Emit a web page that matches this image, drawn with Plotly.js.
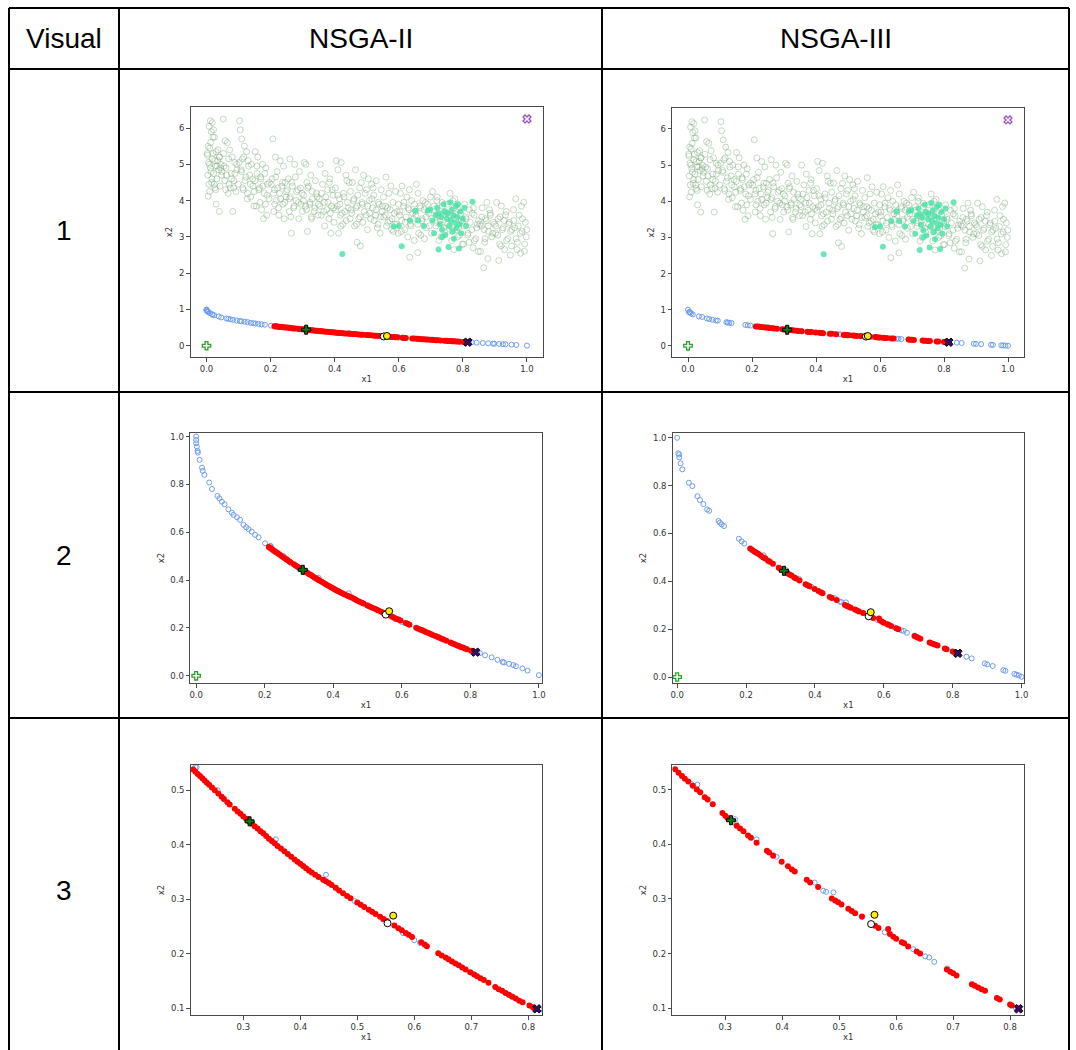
<!DOCTYPE html>
<html><head><meta charset="utf-8">
<script src="https://cdn.plot.ly/plotly-3.0.1.min.js"></script>
<style>html,body{margin:0;padding:0;background:#fff}#chart{width:1076px;height:1050px}</style>
</head><body><div id="chart"></div>
<script>
// ---------- table text ----------
const columnHeaders = ["Visual", "NSGA-II", "NSGA-III"];
const rowLabels = ["1", "2", "3"];
const axisTitleX = "x1";
const axisTitleY = "x2";

// ---------- tick labels per row ----------
const row1TicksX = [0.0, 0.2, 0.4, 0.6, 0.8, 1.0];
const row1TicksY = [0, 1, 2, 3, 4, 5, 6];
const row2TicksX = [0.0, 0.2, 0.4, 0.6, 0.8, 1.0];
const row2TicksY = [0.0, 0.2, 0.4, 0.6, 0.8, 1.0];
const row3TicksX = [0.3, 0.4, 0.5, 0.6, 0.7, 0.8];
const row3TicksY = [0.1, 0.2, 0.3, 0.4, 0.5];

// ---------- population cloud (shared by both algorithms), outer spread ----------
const cloudX = [
 0.012,0.018,0.008,0.022,0.015,0.02,0.025,0.005,0.01,0.03,0.002,0.04,0.018,0.035,0.006,0.045,0.028,0.012,0.038,0.048,0.022,0.004,0.032,0.016,0.042,0.026,0.01,0.005,0.03,0.04,
 0.052,0.058,0.065,0.072,0.08,0.088,0.055,0.095,0.062,0.078,0.07,0.085,0.06,0.092,0.068,0.082,
 0.103,0.105,0.11,0.118,0.125,0.112,0.13,0.14,0.108,0.135,0.12,0.145,0.115,0.128,0.138,0.148,
 0.152,0.16,0.175,0.185,0.158,0.17,0.19,0.165,0.18,0.195,0.155,0.172,0.188,0.178,
 0.207,0.215,0.23,0.24,0.22,0.205,0.245,0.235,0.212,0.228,0.248,0.218,0.238,0.225,0.21,0.242,
 0.26,0.275,0.29,0.255,0.268,0.285,0.298,0.262,0.28,0.295,0.272,0.258,0.288,0.265,
 0.305,0.31,0.325,0.34,0.318,0.33,0.345,0.302,0.322,0.338,0.312,0.348,0.328,0.315,
 0.355,0.37,0.385,0.362,0.378,0.395,0.352,0.368,0.39,0.375,0.358,0.382,0.398,0.388,
 0.405,0.42,0.41,0.435,0.445,0.402,0.428,0.415,0.44,0.408,0.432,0.418,0.448,0.425,0.412,
 0.465,0.49,0.455,0.478,0.495,0.46,0.485,0.47,0.452,0.498,0.475,0.488,0.462,0.47,0.48,
 0.505,0.53,0.515,0.545,0.522,0.508,0.538,0.518,0.548,0.528,0.512,0.535,0.502,0.542,
 0.56,0.575,0.59,0.552,0.582,0.565,0.595,0.558,0.572,0.588,0.562,0.578,0.598,
 0.61,0.605,0.625,0.64,0.615,0.632,0.602,0.645,0.62,0.638,0.608,0.628,0.648,
 0.655,0.66,0.675,0.69,0.668,0.652,0.685,0.672,0.695,0.662,0.68,0.659,0.634,
 0.705,0.72,0.735,0.71,0.745,0.728,0.715,0.74,0.702,0.732,0.725,
 0.76,0.775,0.752,0.785,0.768,0.795,0.758,0.78,0.79,0.765,0.798,0.772,
 0.805,0.82,0.835,0.81,0.845,0.828,0.815,0.84,0.802,0.832,0.848,
 0.875,0.86,0.885,0.87,0.895,0.858,0.88,0.89,0.868,0.855,0.878,0.865,
 0.905,0.92,0.935,0.91,0.945,0.925,0.902,0.94,0.915,0.93,0.948,0.912,
 0.965,0.99,0.958,0.975,0.995,0.962,0.985,0.998,0.97,0.952,0.992,0.98
];
const cloudY = [
 6.2,6.15,6.05,5.95,5.9,5.75,5.75,5.5,5.45,5.35,5.3,5.2,5.15,5.1,5.05,5.0,4.95,4.9,4.85,4.8,4.75,4.7,4.6,4.5,4.4,4.35,4.25,4.12,3.9,3.7,
 6.25,5.65,5.6,5.4,5.2,5.05,4.95,4.85,4.7,4.6,4.45,4.35,4.3,4.25,4.2,3.7,
 6.2,5.95,5.7,5.5,5.35,5.15,5.1,5.0,4.85,4.7,4.55,4.4,4.3,4.2,4.1,3.85,
 5.35,5.2,5.0,4.9,4.75,4.6,4.45,4.35,4.2,4.05,3.85,3.75,3.6,3.5,
 5.7,5.2,5.1,4.95,4.8,4.6,4.5,4.4,4.3,4.2,4.1,4.0,3.9,3.8,3.7,3.5,
 5.15,5.0,4.8,4.6,4.4,4.3,4.2,4.1,4.0,3.9,3.8,3.7,3.5,3.1,
 5.05,5.0,4.7,4.55,4.4,4.25,4.1,4.0,3.9,3.8,3.75,3.6,3.5,3.15,
 5.0,4.75,4.6,4.45,4.3,4.15,4.05,3.95,3.85,3.75,3.6,3.5,3.4,3.1,
 5.1,5.05,4.85,4.7,4.5,4.35,4.2,4.05,3.95,3.85,3.7,3.6,3.5,3.35,3.1,
 4.85,4.7,4.5,4.35,4.2,4.05,3.95,3.85,3.75,3.6,3.5,3.4,3.3,2.85,2.75,
 4.6,4.55,4.45,4.3,4.15,4.0,3.9,3.8,3.7,3.6,3.5,3.35,3.2,3.1,
 4.65,4.4,4.25,4.1,3.95,3.8,3.7,3.6,3.45,3.35,3.3,3.2,3.1,
 4.4,4.2,4.1,4.0,3.85,3.75,3.6,3.5,3.4,3.3,3.15,3.0,2.9,
 4.45,4.2,4.0,3.9,3.8,3.7,3.55,3.45,3.3,3.1,2.95,2.57,2.44,
 4.25,4.1,3.95,3.85,3.7,3.55,3.4,3.25,3.1,3.0,2.9,
 4.2,4.05,3.9,3.75,3.6,3.45,3.3,3.2,3.05,2.9,2.8,2.65,
 3.9,3.75,3.6,3.5,3.35,3.2,3.05,2.95,2.8,2.7,2.6,
 3.95,3.8,3.65,3.5,3.4,3.3,3.15,3.0,2.85,2.6,2.4,2.15,
 3.95,3.85,3.7,3.5,3.4,3.25,3.1,2.95,2.8,2.65,2.5,2.35,
 4.05,3.95,3.75,3.6,3.4,3.25,3.15,3.0,2.85,2.75,2.6,2.55
];
// ---------- population cloud, dense core ----------
const cloudCoreX = [
 0.003,0.009,0.014,0.02,0.026,0.033,0.041,0.047,0.007,0.017,0.029,0.036,0.044,0.013,0.024,
 0.053,0.061,0.069,0.077,0.086,0.094,0.057,0.074,0.089,0.099,
 0.102,0.109,0.116,0.123,0.131,0.137,0.144,0.149,0.113,0.127,
 0.151,0.157,0.163,0.169,0.176,0.182,0.189,0.196,0.167,0.184,
 0.202,0.209,0.216,0.222,0.231,0.237,0.244,0.249,0.226,0.213,
 0.252,0.259,0.266,0.273,0.281,0.287,0.293,0.299,0.277,0.263,
 0.303,0.309,0.316,0.323,0.331,0.336,0.343,0.349,0.327,0.313,
 0.353,0.359,0.366,0.372,0.379,0.386,0.392,0.397,0.369,0.383,
 0.403,0.409,0.416,0.423,0.429,0.436,0.442,0.449,0.419,0.438,
 0.453,0.459,0.466,0.472,0.479,0.486,0.492,0.499,0.468,0.483,
 0.503,0.509,0.516,0.523,0.529,0.536,0.543,0.549,0.52,0.533,
 0.553,0.559,0.566,0.573,0.579,0.586,0.593,0.599,0.569,0.583,
 0.603,0.609,0.616,0.623,0.629,0.636,0.643,0.649,0.619,0.633,
 0.653,0.659,0.666,0.673,0.679,0.686,0.693,0.699,0.669,0.683,
 0.703,0.709,0.716,0.723,0.729,0.736,0.743,0.749,0.719,0.733,
 0.753,0.759,0.766,0.773,0.779,0.786,0.793,0.799,0.769,0.783,
 0.803,0.809,0.816,0.823,0.829,0.836,0.843,0.849,0.819,0.833,
 0.853,0.859,0.866,0.873,0.879,0.886,0.893,0.899,0.869,0.883,
 0.903,0.909,0.916,0.923,0.929,0.936,0.943,0.949,0.919,0.933,
 0.953,0.959,0.966,0.973,0.979,0.986,0.993,0.999,0.969,0.983
];
const cloudCoreY = [
 5.25,5.0,4.8,5.3,5.1,4.95,5.2,4.7,4.45,4.6,4.3,5.4,4.9,5.6,4.45,
 5.3,4.9,5.15,4.75,4.55,5.0,4.55,4.35,4.75,4.45,
 5.05,4.8,5.2,4.65,4.95,4.45,4.6,4.25,4.35,4.05,
 4.55,4.95,4.3,4.65,4.4,4.75,4.15,4.5,3.95,3.9,
 4.45,4.2,4.65,4.35,4.05,4.5,3.95,4.25,3.6,3.9,
 4.3,4.05,4.5,3.85,4.25,3.95,4.35,3.7,4.65,3.55,
 4.15,3.85,4.35,3.95,4.05,3.7,4.2,3.9,3.55,4.5,
 3.85,4.2,3.7,4.1,3.95,3.65,4.3,3.8,3.3,4.5,
 3.75,4.15,3.9,3.65,4.1,3.45,3.8,4.25,3.3,4.55,
 3.65,4.0,3.8,4.15,3.55,3.9,3.7,4.3,3.35,4.5,
 3.85,3.65,4.05,3.45,3.75,3.95,3.55,3.85,4.35,3.25,
 3.55,3.85,3.4,3.75,3.5,3.65,3.35,3.9,4.2,3.15,
 3.7,3.45,3.95,3.55,3.8,3.35,3.65,3.9,3.2,4.3,
 3.6,3.35,3.85,3.5,3.75,3.25,3.65,4.1,3.05,3.95,
 3.5,3.75,3.3,3.6,3.45,3.85,3.15,3.65,4.0,3.35,
 3.35,3.6,3.15,3.8,3.5,3.25,3.65,3.4,4.0,3.0,
 3.3,3.55,3.1,3.4,3.65,2.9,3.25,3.45,2.85,3.8,
 3.35,3.55,3.2,3.45,3.3,3.6,3.1,3.35,2.95,3.75,
 3.3,3.05,3.55,3.2,3.45,2.9,3.35,3.15,2.75,3.6,
 3.2,3.45,2.95,3.3,3.1,3.5,2.8,3.2,2.65,3.85
];

// ---------- highlighted (filled aquamarine) population members ----------
const tealX = [0.424,0.584,0.609,0.6,0.635,0.652,0.66,0.678,0.69,0.698,0.705,0.71,0.715,0.72,0.724,0.728,0.732,0.735,0.74,0.742,0.745,0.75,0.752,0.755,0.758,0.76,0.762,0.765,0.768,0.77,0.772,0.775,0.778,0.78,0.782,0.785,0.788,0.79,0.792,0.795,0.8,0.805,0.81,0.83,0.725,0.735];
const tealY = [2.53,3.29,2.74,3.3,3.45,3.72,3.45,3.3,3.72,3.75,3.45,3.1,3.6,3.8,2.65,3.35,3.55,3.2,3.9,3.7,3.05,3.5,3.65,2.72,3.3,3.95,3.45,3.75,3.15,3.6,2.95,3.4,3.85,3.25,3.55,3.9,2.68,3.35,3.7,3.1,3.5,3.8,3.3,3.97,3.65,3.0];

// ---------- NSGA-II front ----------
const nsga2BlueX = [0,0,0,0.002,0.004,0.005,0.01,0.017,0.019,0.024,0.038,0.046,0.062,0.068,0.075,0.083,0.094,0.104,0.109,0.119,0.128,0.138,0.146,0.153,0.162,0.172,0.182,0.201,0.216,0.218,0.255,0.357,0.445,0.463,0.495,0.545,0.58,0.6,0.61,0.7,0.765,0.77,0.82,0.828,0.843,0.862,0.879,0.894,0.898,0.913,0.925,0.933,0.952,0.967,1.0];
const nsga2BlueY = [1.0,0.986,0.972,0.958,0.94,0.933,0.903,0.87,0.857,0.84,0.808,0.781,0.752,0.742,0.728,0.717,0.696,0.682,0.673,0.663,0.652,0.631,0.621,0.613,0.603,0.589,0.579,0.554,0.543,0.542,0.5,0.41,0.345,0.32,0.297,0.263,0.238,0.225,0.22,0.165,0.125,0.122,0.098,0.095,0.086,0.077,0.067,0.058,0.056,0.05,0.045,0.04,0.031,0.022,0.003];
const nsga2RedX = [
 0.212,0.216,0.22,0.224,0.228,0.232,0.236,0.24,0.245,0.25,
 0.256,0.262,0.266,0.272,0.276,0.285,0.29,0.295,0.3,0.305,
 0.31,0.315,0.32,0.325,0.33,0.335,0.34,0.345,0.35,0.355,
 0.36,0.366,0.372,0.378,0.384,0.39,0.395,0.4,0.405,0.41,
 0.415,0.42,0.426,0.432,0.44,0.445,0.45,0.455,0.462,0.468,
 0.475,0.482,0.488,0.5,0.506,0.512,0.52,0.526,0.532,0.54,
 0.546,0.552,0.565,0.572,0.578,0.585,0.59,0.596,0.612,0.618,
 0.622,0.642,0.648,0.655,0.66,0.666,0.672,0.678,0.684,0.69,
 0.698,0.705,0.71,0.716,0.722,0.73,0.742,0.748,0.754,0.76,
 0.766,0.772,0.778,0.784,0.79,0.802,0.808];
const nsga2RedY = [
 0.538,0.534,0.53,0.526,0.522,0.518,0.514,0.51,0.505,0.5,
 0.494,0.488,0.484,0.478,0.474,0.466,0.461,0.457,0.452,0.448,
 0.443,0.439,0.434,0.43,0.425,0.421,0.416,0.411,0.407,0.403,
 0.398,0.393,0.388,0.383,0.378,0.373,0.369,0.365,0.361,0.357,
 0.353,0.349,0.345,0.341,0.336,0.333,0.33,0.326,0.321,0.316,
 0.311,0.306,0.302,0.294,0.29,0.286,0.281,0.277,0.273,0.268,
 0.264,0.26,0.252,0.247,0.243,0.238,0.235,0.231,0.221,0.217,
 0.214,0.201,0.197,0.193,0.19,0.186,0.182,0.179,0.175,0.171,
 0.166,0.162,0.159,0.155,0.152,0.147,0.139,0.135,0.132,0.128,
 0.125,0.121,0.118,0.114,0.111,0.105,0.102];

// ---------- NSGA-III front ----------
const nsga3BlueX = [0,0.003,0.006,0.006,0.01,0.015,0.034,0.044,0.059,0.066,0.076,0.087,0.093,0.12,0.124,0.129,0.136,0.179,0.187,0.195,0.241,0.251,0.317,0.319,0.355,0.384,0.39,0.457,0.472,0.477,0.49,0.54,0.58,0.63,0.651,0.658,0.667,0.69,0.81,0.84,0.855,0.893,0.9,0.916,0.947,0.953,0.979,0.985,0.992,1.0];
const nsga3BlueY = [1.0,0.935,0.93,0.918,0.893,0.868,0.812,0.798,0.756,0.74,0.723,0.7,0.695,0.652,0.645,0.638,0.631,0.578,0.567,0.558,0.51,0.509,0.446,0.437,0.409,0.38,0.377,0.33,0.315,0.313,0.312,0.267,0.239,0.208,0.195,0.193,0.185,0.173,0.101,0.085,0.078,0.057,0.053,0.046,0.029,0.026,0.013,0.01,0.007,0.001];
const nsga3RedX = [0.212,0.218,0.224,0.229,0.235,0.243,0.25,0.256,0.264,0.269,0.278,0.295,0.3,0.304,0.32,0.326,0.332,0.34,0.345,0.355,0.373,0.377,0.384,0.399,0.41,0.417,0.422,0.443,0.449,0.463,0.487,0.493,0.498,0.504,0.516,0.522,0.528,0.54,0.563,0.569,0.586,0.589,0.595,0.6,0.61,0.614,0.621,0.636,0.642,0.689,0.695,0.7,0.706,0.733,0.738,0.744,0.75,0.756,0.777,0.782,0.8,0.803,0.815];
const nsga3RedY = [0.537,0.531,0.525,0.52,0.515,0.507,0.5,0.495,0.486,0.482,0.473,0.457,0.452,0.448,0.434,0.429,0.424,0.416,0.412,0.403,0.388,0.385,0.379,0.368,0.36,0.354,0.35,0.335,0.33,0.322,0.301,0.297,0.294,0.29,0.282,0.278,0.274,0.268,0.251,0.247,0.245,0.236,0.231,0.227,0.221,0.219,0.213,0.204,0.2,0.171,0.167,0.164,0.16,0.144,0.141,0.138,0.135,0.132,0.119,0.116,0.107,0.105,0.1];

// ---------- special points [x, y] ----------
const idealPoint = [0, 0];
const nadirPoint = [1.0, 6.25];
const nsga2Special = {plus: [0.311, 0.443], cross: [0.815, 0.099], white: [0.553, 0.256], yellow: [0.563, 0.27]};
const nsga3Special = {plus: [0.31, 0.444], cross: [0.815, 0.099], white: [0.556, 0.254], yellow: [0.562, 0.271]};

// ---------- geometry (pixels of the page) ----------
const W = 1076, H = 1050;
const px = x => x / W, py = y => 1 - y / H;
const panels = [
  {row: 1, algo: 2, x0: 190.5, x1: 543, y0: 107, y1: 357, xr: [-0.05, 1.05], yr: [-0.31, 6.58], tx: row1TicksX, ty: row1TicksY, fy: 'd'},
  {row: 1, algo: 3, x0: 672, x1: 1024, y0: 108, y1: 357, xr: [-0.05, 1.05], yr: [-0.31, 6.58], tx: row1TicksX, ty: row1TicksY, fy: 'd'},
  {row: 2, algo: 2, x0: 190, x1: 542, y0: 433, y1: 683, xr: [-0.018, 1.009], yr: [-0.03, 1.015], tx: row2TicksX, ty: row2TicksY, fy: '.1f'},
  {row: 2, algo: 3, x0: 672.7, x1: 1024, y0: 433, y1: 683, xr: [-0.013, 1.007], yr: [-0.025, 1.02], tx: row2TicksX, ty: row2TicksY, fy: '.1f'},
  {row: 3, algo: 2, x0: 190.7, x1: 542, y0: 765, y1: 1015, xr: [0.2077, 0.824], yr: [0.0877, 0.5464], tx: row3TicksX, ty: row3TicksY, fy: '.1f'},
  {row: 3, algo: 3, x0: 672.3, x1: 1024.3, y0: 765, y1: 1015, xr: [0.207, 0.825], yr: [0.0877, 0.545], tx: row3TicksX, ty: row3TicksY, fy: '.1f'}
];

const traces = [];
const layout = {
  width: W, height: H, margin: {l: 0, r: 0, t: 0, b: 0},
  paper_bgcolor: '#fff', plot_bgcolor: '#fff', showlegend: false,
  font: {family: 'DejaVu Sans', color: '#333'},
  shapes: [], annotations: []
};

const tickFont = {family: 'DejaVu Sans', size: 8.5, color: '#333'};
panels.forEach((p, i) => {
  const n = i + 1;
  const xa = 'x' + (n === 1 ? '' : n), ya = 'y' + (n === 1 ? '' : n);
  const common = {showgrid: false, zeroline: false, showline: true, mirror: true, linecolor: '#4a4a4a', linewidth: 1,
    ticks: 'outside', ticklen: 3.5, tickwidth: 1, tickcolor: '#4a4a4a', tickfont: tickFont, fixedrange: true};
  layout['xaxis' + (n === 1 ? '' : n)] = Object.assign({}, common, {
    domain: [px(p.x0), px(p.x1)], range: p.xr, anchor: ya, tickvals: p.tx, tickformat: '.1f',
    title: {text: axisTitleX, font: {family: 'DejaVu Sans', size: 8.5, color: '#333'}, standoff: 3}
  });
  layout['yaxis' + (n === 1 ? '' : n)] = Object.assign({}, common, {
    domain: [py(p.y1), py(p.y0)], range: p.yr, anchor: xa, tickvals: p.ty, tickformat: p.fy,
    title: {text: axisTitleY, font: {family: 'DejaVu Sans', size: 8.5, color: '#333'}, standoff: 4}
  });
  const blueX = p.algo === 2 ? nsga2BlueX : nsga3BlueX, blueY = p.algo === 2 ? nsga2BlueY : nsga3BlueY;
  const redX = p.algo === 2 ? nsga2RedX : nsga3RedX, redY = p.algo === 2 ? nsga2RedY : nsga3RedY;
  const sp = p.algo === 2 ? nsga2Special : nsga3Special;
  const base = {type: 'scatter', mode: 'markers', xaxis: xa, yaxis: ya, hoverinfo: 'skip', cliponaxis: true};
  if (p.row === 1) {
    traces.push(Object.assign({}, base, {x: cloudX.concat(cloudCoreX), y: cloudY.concat(cloudCoreY),
      marker: {symbol: 'circle-open', size: 6, color: 'rgba(120,165,120,0.42)', line: {width: 1}}}));
    traces.push(Object.assign({}, base, {x: tealX, y: tealY,
      marker: {symbol: 'circle', size: 6, color: 'rgba(70,225,165,0.8)', line: {width: 0}}}));
  }
  traces.push(Object.assign({}, base, {x: blueX, y: blueY,
    marker: {symbol: 'circle-open', size: 5, color: '#6f9cf0', line: {width: 1}}}));
  traces.push(Object.assign({}, base, {x: redX, y: redY,
    marker: {symbol: 'circle', size: 6, color: '#ff0000', line: {width: 0}}}));
  traces.push(Object.assign({}, base, {x: [idealPoint[0]], y: [idealPoint[1]],
    marker: {symbol: 'cross-open', size: 7, color: '#2ca02c', line: {width: 1.3}}}));
  traces.push(Object.assign({}, base, {x: [nadirPoint[0]], y: [nadirPoint[1]],
    marker: {symbol: 'x-open', size: 7, color: '#9a4fc0', line: {width: 1.3}}}));
  traces.push(Object.assign({}, base, {x: [sp.white[0]], y: [sp.white[1]],
    marker: {symbol: 'circle', size: 7, color: '#ffffff', line: {width: 1, color: '#000'}}}));
  traces.push(Object.assign({}, base, {x: [sp.yellow[0]], y: [sp.yellow[1]],
    marker: {symbol: 'circle', size: 7, color: '#ffee00', line: {width: 1, color: '#000'}}}));
  traces.push(Object.assign({}, base, {x: [sp.plus[0]], y: [sp.plus[1]],
    marker: {symbol: 'cross', size: 7.5, color: '#0a7a0a', line: {width: 1, color: '#000'}}}));
  traces.push(Object.assign({}, base, {x: [sp.cross[0]], y: [sp.cross[1]],
    marker: {symbol: 'x', size: 7.5, color: '#3a0a6a', line: {width: 1, color: '#000'}}}));
});

// ---------- table grid ----------
const gridV = [9, 119, 602, 1069];
const gridH = [8, 69, 392, 718];
const lineStyle = {color: '#000', width: 2};
gridV.forEach(x => layout.shapes.push({type: 'line', xref: 'paper', yref: 'paper', x0: px(x), x1: px(x), y0: py(gridH[0]), y1: py(H), line: lineStyle}));
gridH.forEach(y => layout.shapes.push({type: 'line', xref: 'paper', yref: 'paper', x0: px(gridV[0]), x1: px(gridV[3]), y0: py(y), y1: py(y), line: lineStyle}));

const cellFont = {family: 'Liberation Sans', size: 28, color: '#000'};
const headerCenters = [64, 361, 836];
columnHeaders.forEach((t, i) => layout.annotations.push({text: t, xref: 'paper', yref: 'paper', x: px(headerCenters[i]), y: py(38.5), xanchor: 'center', yanchor: 'middle', showarrow: false, font: cellFont}));
const rowCenters = [231, 555, 890];
rowLabels.forEach((t, i) => layout.annotations.push({text: t, xref: 'paper', yref: 'paper', x: px(64), y: py(rowCenters[i]), xanchor: 'center', yanchor: 'middle', showarrow: false, font: cellFont}));

Plotly.newPlot('chart', traces, layout, {staticPlot: true, displayModeBar: false});
</script>
</body></html>
